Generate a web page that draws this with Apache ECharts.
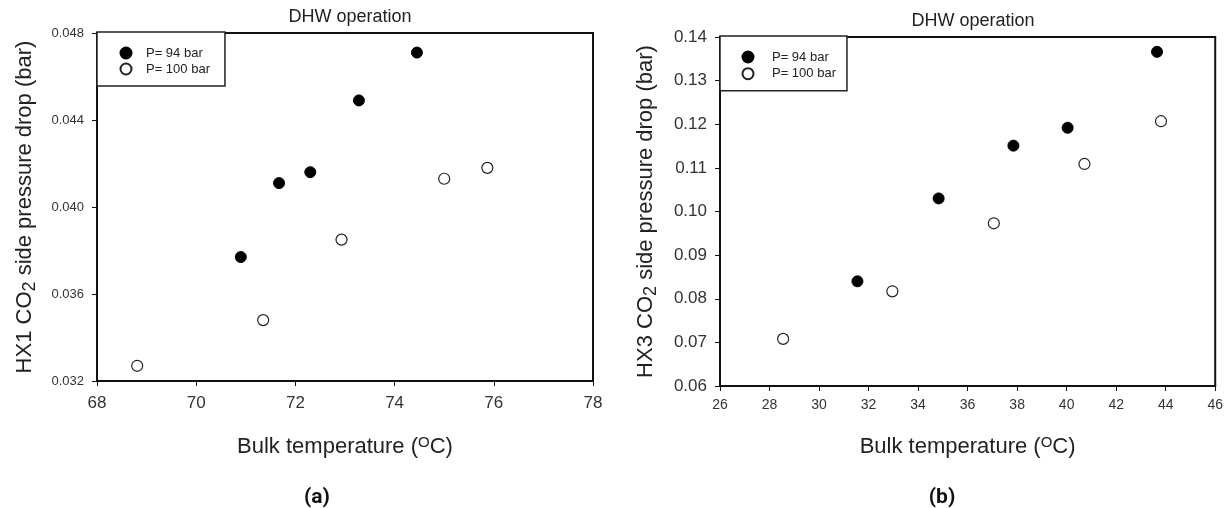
<!DOCTYPE html>
<html>
<head>
<meta charset="utf-8">
<script src="https://cdn.jsdelivr.net/npm/echarts@6/dist/echarts.min.js"></script>
<style>html,body{margin:0;padding:0;background:#fff;}#c{width:1226px;height:508px;}</style>
</head>
<body>
<div id="c"></div>
<script>
// ---- data ----
const seriesNames = ['P= 94 bar', 'P= 100 bar'];
// (a) HX1
const hx1_p94_T  = [70.90, 71.67, 72.30, 73.28, 74.45];
const hx1_p94_dP = [0.0377, 0.0411, 0.0416, 0.0449, 0.0471];
const hx1_p100_T  = [68.81, 71.35, 72.93, 75.00, 75.87];
const hx1_p100_dP = [0.0327, 0.0348, 0.0385, 0.0413, 0.0418];
// (b) HX3
const hx3_p94_T  = [31.55, 34.83, 37.85, 40.04, 43.65];
const hx3_p94_dP = [0.0840, 0.1030, 0.1151, 0.1192, 0.1366];
const hx3_p100_T  = [28.55, 32.96, 37.06, 40.72, 43.81];
const hx3_p100_dP = [0.0708, 0.0817, 0.0973, 0.1109, 0.1207];
// axis ranges / ticks  [min, max, interval]
const hx1X = [68, 78, 2];
const hx1Y = [0.032, 0.048, 0.004];
const hx3X = [26, 46, 2];
const hx3Y = [0.06, 0.14, 0.01];
const panelLabels = ['(a)', '(b)'];
const titleText = 'DHW operation';

const zip = (a, b) => a.map((v, i) => [v, b[i]]);
const FONT = '"Liberation Sans", Arial, sans-serif';

const chart = echarts.init(document.getElementById('c'), null, {renderer: 'canvas'});

function xAxis(idx, rng, gap, fs, margin) {
  return {
    type: 'value', gridIndex: idx, min: rng[0], max: rng[1], interval: rng[2],
    name: 'Bulk temperature ({sup|O}C)', nameLocation: 'middle', nameGap: gap,
    nameTextStyle: {fontFamily: FONT, fontSize: 22, color: '#222',
      rich: {sup: {fontFamily: FONT, fontSize: 15, color: '#222', padding: [0, 0, 9, 0]}}},
    axisLine: {show: true, lineStyle: {color: '#111', width: 2}},
    axisTick: {show: true, inside: false, length: 5, lineStyle: {color: '#111', width: 1}},
    axisLabel: {fontFamily: FONT, fontSize: fs, color: '#333', margin: margin},
    splitLine: {show: false}
  };
}
function yAxis(idx, rng, name, gap, fs, dec) {
  return {
    type: 'value', gridIndex: idx, min: rng[0], max: rng[1], interval: rng[2],
    name: name, nameLocation: 'middle', nameGap: gap,
    nameTextStyle: {fontFamily: FONT, fontSize: 22, color: '#222',
      rich: {sub: {fontFamily: FONT, fontSize: 18, color: '#222', padding: [10, 0, 0, 0]}}},
    axisLine: {show: true, lineStyle: {color: '#111', width: 2}},
    axisTick: {show: true, inside: false, length: 5, lineStyle: {color: '#111', width: 1}},
    axisLabel: {fontFamily: FONT, fontSize: fs, color: '#333', margin: 13,
      formatter: v => v.toFixed(dec)},
    splitLine: {show: false}
  };
}
function legend(left, top, pad, textPad, gap) {
  return {
    left: left, top: top, orient: 'vertical',
    data: seriesNames, icon: 'circle',
    itemWidth: 11, itemHeight: 11, itemGap: gap,
    padding: pad,
    borderColor: '#222', borderWidth: 1.5, borderRadius: 0, backgroundColor: '#fff',
    textStyle: {fontFamily: FONT, fontSize: 13, color: '#222', lineHeight: 14,
      padding: [0, 0, 0, textPad]},
    selectedMode: false
  };
}
function scatter(name, xi, yi, data, filled) {
  return {
    type: 'scatter', name: name, xAxisIndex: xi, yAxisIndex: yi, data: data,
    symbol: 'circle', symbolSize: 11,
    itemStyle: filled ? {color: '#000', borderColor: '#000', borderWidth: 1, opacity: 1}
                      : {color: '#fff', borderColor: '#222', borderWidth: 1.2, opacity: 1},
    emphasis: {disabled: true}
  };
}

chart.setOption({
  animation: false,
  backgroundColor: '#fff',
  title: [
    {text: titleText, left: 345, top: 3, textAlign: 'center',
     textStyle: {fontFamily: FONT, fontSize: 18, fontWeight: 'normal', color: '#222'}},
    {text: titleText, left: 968, top: 7, textAlign: 'center',
     textStyle: {fontFamily: FONT, fontSize: 18, fontWeight: 'normal', color: '#222'}},
    {text: panelLabels[0], left: 312, top: 482, textAlign: 'center',
     textStyle: {fontFamily: '"Roboto", ' + FONT, fontSize: 21, fontWeight: 'bold', color: '#111'}},
    {text: panelLabels[1], left: 937, top: 482, textAlign: 'center',
     textStyle: {fontFamily: '"Roboto", ' + FONT, fontSize: 21, fontWeight: 'bold', color: '#111'}}
  ],
  grid: [
    {left: 97, top: 33, width: 496, height: 348, show: true, borderColor: '#111', borderWidth: 2, backgroundColor: 'transparent'},
    {left: 720, top: 37, width: 496, height: 349, show: true, borderColor: '#111', borderWidth: 2, backgroundColor: 'transparent'}
  ],
  xAxis: [xAxis(0, hx1X, 54, 17, 14), xAxis(1, hx3X, 49, 14, 12)],
  yAxis: [
    yAxis(0, hx1Y, 'HX1 CO{sub|2} side pressure drop (bar)', 58, 13, 3),
    yAxis(1, hx3Y, 'HX3 CO{sub|2} side pressure drop (bar)', 60, 17, 2)
  ],
  legend: [
    legend(97, 32, [14, 15, 10, 22.5], 9.5, 2),
    legend(720, 36, [14, 11, 10, 21.5], 13.5, 2.7)
  ],
  series: [
    scatter(seriesNames[0], 0, 0, zip(hx1_p94_T, hx1_p94_dP), true),
    scatter(seriesNames[1], 0, 0, zip(hx1_p100_T, hx1_p100_dP), false),
    scatter(seriesNames[0], 1, 1, zip(hx3_p94_T, hx3_p94_dP), true),
    scatter(seriesNames[1], 1, 1, zip(hx3_p100_T, hx3_p100_dP), false)
  ]
});
</script>
</body>
</html>
